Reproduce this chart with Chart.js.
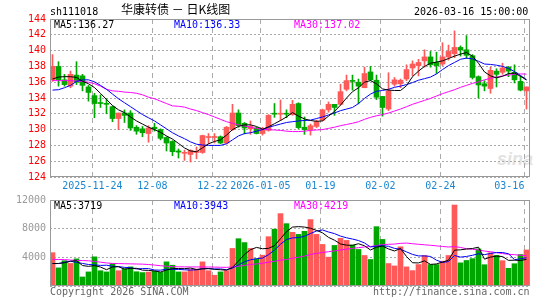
<!DOCTYPE html>
<html>
<head>
<meta charset="utf-8">
<script src="https://cdn.jsdelivr.net/npm/chart.js@4.4.1/dist/chart.umd.min.js"></script>
<style>
  html, body { margin: 0; padding: 0; background: #fff; }
  #wrap { position: relative; width: 545px; height: 300px; overflow: hidden;
          font-family: 'DejaVu Sans Mono', monospace; font-size: 10px; color: #000; }
  .t { position: absolute; white-space: pre; line-height: 10px; }
  canvas { position: absolute; left: 0; }
</style>
</head>
<body>
<div id="wrap">
  <div class="t" style="left:497px;top:150px;font:italic bold 18px 'Liberation Sans';color:#e2e2e2;line-height:18px">sina</div>
  <canvas id="kline" width="545" height="195" style="top:0"></canvas>
  <canvas id="vol" width="545" height="105" style="top:195px"></canvas>

  <div class="t" style="left:50px;top:7px">sh111018</div>
  <div class="t" style="left:121px;top:3px;font:12px 'Noto Sans CJK SC';line-height:12px">华康转债 － 日K线图</div>
  <div class="t" style="left:414px;top:7px">2026-03-16 15:00:00</div>

  <div class="t" style="left:54px;top:19.5px">MA5:136.27</div>
  <div class="t" style="left:174px;top:19.5px;color:#0000ff">MA10:136.33</div>
  <div class="t" style="left:294px;top:19.5px;color:#ff00ff">MA30:137.02</div>

  <div class="t" style="left:54px;top:201px">MA5:3719</div>
  <div class="t" style="left:174px;top:201px;color:#0000ff">MA10:3943</div>
  <div class="t" style="left:294px;top:201px;color:#ff00ff">MA30:4219</div>

  <div class="t" style="left:50px;top:287px;color:#666">Copyright 2026 SINA.COM</div>
  <div class="t" style="left:373px;top:287px;color:#666">http://finance.sina.com.cn</div>
</div>

<script>
// 华康转债 daily K line, 2025-11-13 .. 2026-03-16 (80 sessions)

const tickIdx = [7, 17, 27, 35, 45, 55, 65, 79];
const tickText = ['2025-11-24', '12-08', '12-22', '2026-01-05', '01-19', '02-02', '02-24', '03-16'];

const opens = [
  136.3, 138.0, 136.3, 135.5, 136.9, 136.8, 135.4, 134.3, 133.4, 133.3,
  132.9, 131.4, 132.1, 132.1, 130.3, 130.1, 129.5, 130.3, 130.0, 129.0,
  128.5, 127.3, 127.0, 126.85, 127.1, 127.1, 129.0, 129.0, 129.1, 128.3,
  130.0, 132.1, 130.8, 130.1, 130.2, 129.5, 129.9, 132.05, 131.95, 132.05,
  131.9, 133.3, 130.3, 130.0, 130.4, 131.2, 132.5, 133.2, 133.2, 135.1,
  136.2, 136.0, 135.3, 137.3, 136.25, 134.2, 132.6, 135.75, 135.8, 136.4,
  137.8, 138.1, 138.7, 139.2, 138.5, 138.3, 139.2, 139.6, 140.4, 140.1,
  139.35, 136.7, 135.8, 135.2, 137.4, 137.25, 137.9, 137.25, 136.1, 134.9
];
const highs = [
  139.5, 138.6, 137.0, 137.4, 138.6, 137.0, 135.6, 134.6, 134.4, 133.9,
  133.0, 132.1, 132.5, 132.4, 130.5, 130.4, 130.5, 130.8, 130.1, 129.1,
  128.6, 127.55, 127.4, 127.45, 127.8, 129.3, 129.5, 129.5, 129.2, 130.4,
  133.2, 132.5, 130.9, 131.1, 130.3, 130.3, 131.9, 133.3, 133.75, 132.5,
  133.7, 133.4, 131.6, 130.7, 131.2, 132.6, 133.5, 133.2, 135.75, 136.9,
  136.9, 136.4, 137.9, 138.0, 136.9, 134.2, 137.2, 136.6, 136.4, 138.2,
  138.7, 138.9, 140.1, 139.9, 139.8, 141.0, 140.7, 142.5, 140.6, 141.9,
  139.5, 136.8, 136.2, 137.9, 137.7, 138.4, 138.0, 138.2, 136.8, 135.4
];
const lows = [
  136.1, 135.5, 135.5, 135.3, 135.7, 134.9, 133.6, 131.5, 132.8, 132.0,
  131.0, 130.0, 130.9, 129.9, 129.4, 129.1, 128.4, 129.8, 128.7, 127.3,
  126.7, 126.4, 126.1, 125.9, 126.3, 127.0, 128.2, 128.3, 128.2, 128.2,
  129.9, 130.3, 129.45, 129.4, 129.45, 129.3, 129.8, 131.55, 131.15, 131.5,
  131.8, 130.1, 129.4, 129.3, 130.25, 131.1, 132.2, 131.8, 133.1, 134.9,
  135.0, 133.25, 135.3, 136.2, 133.8, 131.7, 132.4, 135.5, 135.3, 136.2,
  136.8, 136.8, 137.9, 137.9, 137.1, 138.1, 138.8, 139.1, 139.3, 139.0,
  136.4, 134.0, 134.9, 134.6, 135.4, 137.0, 136.7, 135.9, 134.9, 132.6
];
const closes = [
  138.0, 136.3, 135.7, 137.0, 136.0, 135.6, 134.7, 133.3, 133.3, 133.2,
  131.4, 132.1, 131.8, 130.2, 129.8, 129.6, 130.2, 130.1, 128.9, 128.3,
  127.2, 127.15, 127.1, 127.35, 127.25, 129.25, 129.1, 129.1, 128.3, 130.3,
  132.1, 130.5, 130.2, 130.4, 129.5, 129.95, 131.8, 131.95, 132.05, 131.95,
  133.2, 130.25, 130.0, 130.5, 131.0, 132.5, 133.2, 132.8, 134.8, 136.2,
  136.1, 135.5, 137.1, 136.3, 134.1, 132.8, 134.9, 136.3, 136.25, 137.6,
  138.3, 138.5, 139.2, 138.2, 138.1, 139.2, 139.9, 140.4, 140.1, 139.4,
  136.6, 135.65, 135.5, 137.5, 137.0, 137.8, 137.4, 136.3, 135.0, 135.4
];

const ma5 = [
  136.4, 136.65, 136.7, 136.7, 136.6, 136.12, 135.8, 135.32, 134.58, 133.82,
  133.05, 132.5, 132.15, 131.6, 131.1, 130.7, 130.3, 130.0, 129.65, 129.2,
  128.8, 128.25, 127.68, 127.3, 127.2, 127.7, 128.2, 128.5, 128.7, 129.3,
  130.0, 130.4, 130.6, 130.6, 130.4, 130.05, 130.35, 130.75, 131.15, 131.6,
  132.15, 131.7, 131.35, 131.15, 131.05, 131.1, 131.7, 132.3, 133.1, 134.0,
  134.8, 135.3, 136.0, 136.2, 135.8, 135.15, 135.0, 134.95, 134.95, 135.55,
  136.7, 137.4, 138.0, 138.4, 138.55, 138.7, 139.0, 139.3, 139.55, 139.75,
  139.3, 138.4, 137.3, 136.8, 136.55, 136.75, 137.1, 137.15, 136.75, 136.27
];
const ma10 = [
  135.0, 135.05, 135.3, 135.6, 136.1, 136.3, 136.3, 136.05, 135.6, 135.1,
  134.5, 133.9, 133.4, 132.9, 132.4, 131.9, 131.5, 131.1, 130.6, 130.1,
  129.6, 129.2, 128.85, 128.45, 128.15, 128.05, 128.0, 128.0, 128.0, 128.2,
  128.7, 129.2, 129.5, 129.6, 129.8, 130.0, 130.3, 130.5, 130.7, 130.9,
  131.0, 131.1, 131.15, 131.2, 131.4, 131.6, 131.85, 132.1, 132.4, 132.6,
  132.8, 133.3, 133.95, 134.5, 134.85, 134.95, 135.1, 135.35, 135.5, 135.7,
  135.95, 136.25, 136.45, 136.65, 137.05, 137.6, 138.1, 138.5, 138.9, 139.05,
  138.95, 138.65, 138.3, 138.25, 138.15, 138.0, 137.75, 137.35, 136.85, 136.33
];
const ma30 = [
  136.2, 136.2, 136.2, 136.2, 136.15, 136.1, 136.0, 135.8, 135.5, 135.1,
  134.9, 134.85, 134.75, 134.7, 134.6, 134.4, 134.1, 133.9, 133.6, 133.3,
  133.0, 132.95, 132.85, 132.6, 132.4, 132.15, 131.9, 131.6, 131.3, 131.0,
  130.8, 130.6, 130.45, 130.3, 130.15, 130.05, 130.0, 129.95, 129.9, 129.8,
  129.75, 129.75, 129.8, 129.9, 129.95, 130.0, 130.15, 130.3, 130.5, 130.65,
  130.8, 131.0, 131.3, 131.55, 131.75, 131.9, 132.1, 132.35, 132.6, 132.9,
  133.2, 133.45, 133.7, 133.95, 134.25, 134.55, 134.8, 135.05, 135.35, 135.6,
  135.85, 136.05, 136.3, 136.5, 136.65, 136.8, 136.9, 137.0, 137.05, 137.02
];

const volumes = [
  4650, 2530, 3530, 3150, 3790, 1260, 1965, 4070, 2130, 1966,
  3136, 2130, 2410, 2668, 1990, 1870, 1940, 2060, 1900, 3370,
  2900, 1966, 1966, 2300, 2360, 3370, 2130, 1500, 1966, 2150,
  5240, 6600, 6060, 5240, 3790, 4300, 6880, 7930, 10100, 8700,
  7490, 7200, 7630, 9270, 7200, 5800, 4025, 5660, 6650, 6360,
  5710, 5100, 4260, 3700, 8280, 6500, 3135, 2800, 5475, 2670,
  2150, 2995, 4260, 2995, 2995, 3460, 4260, 11300, 3230, 3560,
  3820, 5170, 2970, 4630, 4270, 3535, 2470, 3110, 4390, 5030
];
const volMa5 = [
  3136, 3136, 3250, 3450, 3530, 2852, 2739, 2847, 2643, 2278,
  2653, 2686, 2354, 2462, 2467, 2214, 2176, 2106, 1952, 2228,
  2434, 2439, 2420, 2500, 2298, 2392, 2425, 2332, 2265, 2223,
  2597, 3491, 4403, 5058, 5386, 5198, 5254, 5628, 6600, 7582,
  8220, 8284, 8224, 8058, 7758, 7420, 6785, 6391, 5867, 5699,
  5681, 5896, 5616, 5026, 5410, 5568, 5175, 4883, 5238, 4116,
  3246, 3218, 3510, 3014, 3079, 3341, 3594, 5002, 5049, 5162,
  5234, 5416, 3750, 4030, 4172, 4115, 3575, 3603, 3555, 3719
];
const volMa10 = [
  3136, 3136, 3300, 3450, 3300, 3150, 3000, 2950, 2870, 2904,
  2753, 2713, 2601, 2553, 2373, 2434, 2431, 2230, 2207, 2347,
  2324, 2307, 2263, 2226, 2263, 2413, 2432, 2376, 2383, 2261,
  2495, 2958, 3368, 3662, 3805, 3898, 4373, 5016, 5829, 6484,
  6709, 6769, 6926, 7329, 7670, 7820, 7535, 7308, 6963, 6729,
  6551, 6341, 6004, 5447, 5555, 5625, 5536, 5250, 5132, 4763,
  4407, 4197, 4197, 4126, 3598, 3294, 3406, 4256, 4032, 4121,
  4288, 4505, 4376, 4540, 4667, 4675, 4496, 3677, 3793, 3943
];
const volMa30 = [
  3700, 3700, 3680, 3620, 3570, 3550, 3520, 3420, 3330, 3220,
  3150, 3130, 3110, 3090, 3070, 3050, 3000, 2920, 2830, 2760,
  2700, 2680, 2670, 2660, 2660, 2650, 2650, 2640, 2620, 2600,
  2660, 2750, 2880, 3000, 3080, 3180, 3330, 3450, 3600, 3700,
  3880, 4020, 4180, 4400, 4550, 4680, 4780, 4900, 5020, 5150,
  5250, 5350, 5450, 5500, 5650, 5780, 5820, 5850, 5950, 5990,
  5900, 5820, 5750, 5680, 5600, 5520, 5440, 5500, 5380, 5200,
  5120, 5020, 4880, 4780, 4650, 4530, 4420, 4370, 4290, 4219
];

const UP = '#ff5a5a';
const DOWN = '#00a600';
const GRID = '#aaaaaa';
const FONT = { family: 'DejaVu Sans Mono', size: 10 };

const pts = arr => arr.map((y, i) => ({ x: i, y }));
const candleColor = opens.map((o, i) => closes[i] >= o ? UP : DOWN);

const maLine = (data, color) => ({
  type: 'line', data: pts(data), borderColor: color, borderWidth: 1,
  pointRadius: 0, tension: 0, order: 0
});

const framePlugin = {
  id: 'frame',
  afterDatasetsDraw(chart) {
    const { ctx, chartArea: a } = chart;
    ctx.save();
    ctx.strokeStyle = '#999';
    ctx.lineWidth = 1;
    ctx.strokeRect(a.left + 0.5, a.top + 0.5, a.right - a.left - 1, a.bottom - a.top - 1);
    ctx.restore();
  }
};

function xScale(showLabels) {
  return {
    type: 'linear', min: -0.4167, max: 79.5833, offset: false,
    afterBuildTicks: s => { s.ticks = tickIdx.map(v => ({ value: v - 0.35 })); },
    afterFit: s => { s.height = showLabels ? 18 : 0; s.paddingLeft = 0; s.paddingRight = 0; },
    ticks: {
      display: showLabels, autoSkip: false, maxRotation: 0, minRotation: 0,
      color: '#1a86d0', font: FONT, padding: 3,
      // last label sits left of its grid line, inside the frame
      callback: (v, i) => i === tickText.length - 1 ? tickText[i] + '     ' : tickText[i]
    },
    grid: { color: GRID, drawTicks: false, offset: false },
    border: { display: false, dash: [5, 4] }
  };
}

function yScale(min, max, step, color, fmt) {
  return {
    min, max,
    afterFit: s => { s.width = 50; s.paddingTop = 0; s.paddingBottom = 0; },
    ticks: { stepSize: step, color, font: FONT, padding: 4, callback: fmt },
    grid: { color: GRID, drawTicks: false },
    border: { display: false, dash: [2, 2] }
  };
}

new Chart(document.getElementById('kline'), {
  type: 'bar',
  data: {
    datasets: [
      maLine(ma5, '#000000'),
      maLine(ma10, '#0000ff'),
      maLine(ma30, '#ff00ff'),
      { type: 'bar', data: opens.map((o, i) => ({ x: i, y: [o, closes[i]] })),
        backgroundColor: candleColor, barThickness: 5, minBarLength: 1, grouped: false, order: 1 },
      { type: 'bar', data: lows.map((l, i) => ({ x: i, y: [l, highs[i]] })),
        backgroundColor: candleColor, barThickness: 1, grouped: false, order: 2 }
    ]
  },
  options: {
    responsive: false, animation: false, events: [],
    layout: { padding: { top: 19, right: 15, left: 0, bottom: 0 } },
    plugins: { legend: { display: false }, tooltip: { enabled: false } },
    scales: {
      x: xScale(true),
      y: yScale(124, 144, 2, '#ff0000', v => v)
    }
  },
  plugins: [framePlugin]
});

new Chart(document.getElementById('vol'), {
  type: 'bar',
  data: {
    datasets: [
      maLine(volMa5, '#000000'),
      maLine(volMa10, '#0000ff'),
      maLine(volMa30, '#ff00ff'),
      { type: 'bar', data: pts(volumes), backgroundColor: candleColor,
        barThickness: 5, grouped: false, order: 1 }
    ]
  },
  options: {
    responsive: false, animation: false, events: [],
    layout: { padding: { top: 5, right: 15, left: 0, bottom: 14 } },
    plugins: { legend: { display: false }, tooltip: { enabled: false } },
    scales: {
      x: xScale(false),
      y: yScale(0, 12000, 4000, '#999999', v => v === 0 ? '' : v)
    }
  },
  plugins: [framePlugin]
});
</script>
</body>
</html>
